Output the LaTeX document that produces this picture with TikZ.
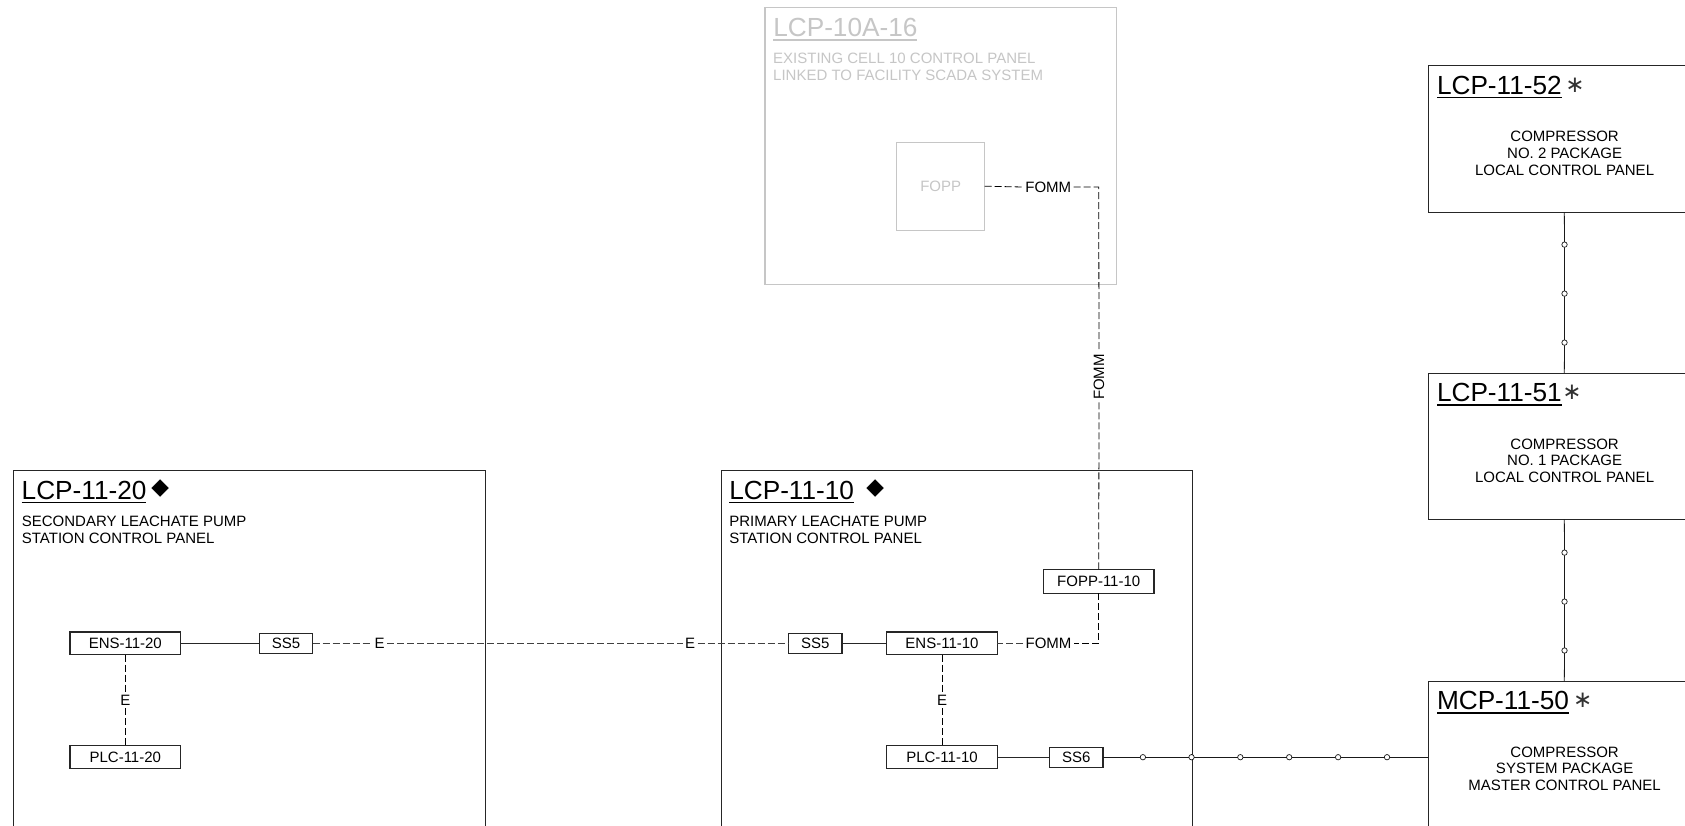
\documentclass[tikz,border=0pt]{standalone}
\usepackage{fontspec}
\setmainfont{Liberation Sans}
\newfontfamily\symfont{DejaVu Sans}
\tikzset{
  every node/.style={font=\fontsize{15}{16.7}\selectfont},
  panel/.style={draw=#1,line width=1pt,anchor=north west,inner sep=0pt,outer sep=0pt},
  panel/.default={black!85},
  ghost/.style={draw=ghostc,line width=1.1pt,text=ghostc,inner sep=0pt,outer sep=0pt},
  device/.style={draw=black!85,line width=1.1pt,fill=white,inner sep=0pt,outer sep=0pt},
  titletext/.style={font=\fontsize{26.2}{28}\selectfont,anchor=base west,inner sep=0pt,outer sep=0pt},
  bodytext/.style={align=left,anchor=west,inner sep=0pt},
  centertext/.style={align=center,anchor=center,inner sep=0pt},
  mark sym/.style={font=\symfont\fontsize{#1}{#1}\selectfont,inner sep=0pt},
  wirelabel/.style={inner sep=2.5pt,outer sep=0pt},
  dashline/.style={line width=.8pt,dash pattern=on 7pt off 3pt},
  solidthick/.style={line width=1.4pt,black!85},
  solidthin/.style={line width=.8pt,black!90},
  tap/.style={circle,draw=black!90,line width=.7pt,fill=white,inner sep=0pt,minimum size=5.4pt,outer sep=0pt},
}
\definecolor{ghostc}{HTML}{C6C6C6}
\begin{document}
\begin{tikzpicture}[x=1pt,y=-1pt]
\useasboundingbox (0,0) rectangle (1685,825);
\clip (0,0) rectangle (1685,825);
\fill[white] (0,0) rectangle (1685,825);

% existing panel
\node[panel=ghostc,line width=1.1pt,minimum width=351.7pt,minimum height=276.6pt] (p10a) at (765,7.7) {};
\node[titletext,text=ghostc] (t10a) at (773.3,36.3) {LCP-10A-16};
\draw[line width=1.5pt,ghostc] ([yshift=-3.6pt]t10a.base west) -- ([yshift=-3.6pt]t10a.base east);
\node[bodytext,text=ghostc] (b10a) at (773,66.9) {EXISTING CELL 10 CONTROL PANEL\\LINKED TO FACILITY SCADA SYSTEM};
\node[ghost,minimum width=88pt,minimum height=87.7pt] (fopp) at (940.7,186.2) {FOPP};

% pump panels
\node[panel,minimum width=471.4pt,minimum height=500pt] (p20) at (13.6,470.4) {};
\node[titletext] (t20) at (21.7,499) {LCP-11-20};
\draw[line width=1.5pt] ([yshift=-3.4pt]t20.base west) -- ([yshift=-3.4pt]t20.base east);
\node[mark sym=23] (d20) at (160.3,489) {◆};
\node[bodytext] (b20) at (21.7,529.9) {SECONDARY LEACHATE PUMP\\STATION CONTROL PANEL};

\node[panel,minimum width=471.7pt,minimum height=500pt] (p10) at (721.2,470.4) {};
\node[titletext] (t10) at (729.3,499) {LCP-11-10};
\draw[line width=1.5pt] ([yshift=-3.4pt]t10.base west) -- ([yshift=-3.4pt]t10.base east);
\node[mark sym=23] (d10) at (875.3,489) {◆};
\node[bodytext] (b10) at (729.1,529.9) {PRIMARY LEACHATE PUMP\\STATION CONTROL PANEL};

% compressor panels
\foreach \nm/\ttl/\ty/\sx/\la/\lb/\lc in {
  p52/LCP-11-52/65.7/1575/COMPRESSOR/NO. 2 PACKAGE/LOCAL CONTROL PANEL,
  p51/LCP-11-51/373/1572/COMPRESSOR/NO. 1 PACKAGE/LOCAL CONTROL PANEL,
  p50/MCP-11-50/681/1582.8/COMPRESSOR/SYSTEM PACKAGE/MASTER CONTROL PANEL}{
  \node[panel,minimum width=271.8pt,minimum height=146.3pt] (\nm) at (1428.4,\ty) {};
  \node[titletext] (t\nm) at (1437,\ty+28.3) {\ttl};
  \draw[line width=1.5pt] ([yshift=-3.6pt]t\nm.base west) -- ([yshift=-3.6pt]t\nm.base east);
  \node[font=\symfont\fontsize{23}{23}\selectfont,text=black!80,inner sep=0pt] (s\nm) at (\sx,\ty+19.3) {∗};
  \node[centertext] (b\nm) at (1564.6,\ty+87.7) {\la\\\lb\\\lc};
}

% devices
\node[device,minimum width=110.7pt,minimum height=22.6pt] (ens20) at (125.3,643.3) {ENS-11-20};
\node[device,minimum width=110.7pt,minimum height=23pt] (plc20) at (125.3,757.2) {PLC-11-20};
\node[device,minimum width=53.4pt,minimum height=19.5pt] (ss20) at (286,643.3) {SS5};
\node[device,minimum width=53.3pt,minimum height=19.7pt] (ss10) at (815.3,643.3) {SS5};
\node[device,minimum width=110.6pt,minimum height=22.6pt] (ens10) at (942,643.3) {ENS-11-10};
\node[device,minimum width=110.6pt,minimum height=23pt] (plc10) at (942,757.2) {PLC-11-10};
\node[device,minimum width=53.6pt,minimum height=20pt] (ss6) at (1076.2,757.2) {SS6};
\node[device,minimum width=110.6pt,minimum height=23.4pt] (fopp10) at (1098.7,581.5) {FOPP-11-10};

% wire labels
\node[wirelabel] (lf1) at (1048.3,187) {FOMM};
\coordinate (c1) at (1098.7,187);
\node[wirelabel,rotate=90] (lf2) at (1099,377) {FOMM};
\node[wirelabel] (lf3) at (1048.5,643.3) {FOMM};
\coordinate (c3) at (1098.7,643.3);
\node[wirelabel] (le1) at (379.7,643.3) {E};
\node[wirelabel] (le2) at (690,643.3) {E};
\node[wirelabel] (le3) at (125.3,700.8) {E};
\node[wirelabel] (le4) at (942,700.8) {E};

% dashed wires
\draw[dashline] (fopp.east) -- (lf1.west);
\draw[dashline] (lf1.east) -- (c1) -- (lf2.east);
\draw[dashline] (lf2.west) -- (fopp10.north);
\draw[dashline] (fopp10.south) -- (c3) -- (lf3.east);
\draw[dashline,black!75] (lf3.west) -- (ens10.east);
\draw[dashline,black!75] (ss20.east) -- (le1.west);
\draw[dashline,black!75] (le1.east) -- (le2.west);
\draw[dashline,black!75] (le2.east) -- (ss10.west);
\draw[dashline] (ens20.south) -- (le3.north);
\draw[dashline] (le3.south) -- (plc20.north);
\draw[dashline] (ens10.south) -- (le4.north);
\draw[dashline] (le4.south) -- (plc10.north);

% solid wires
\draw[solidthick] (ens20.east) -- (ss20.west);
\draw[solidthick] (ss10.east) -- (ens10.west);
\draw[solidthick] (plc10.east) -- (ss6.west);

% comms with taps
\foreach \n/\x in {h1/1142.9,h2/1191.5,h3/1240.3,h4/1289.2,h5/1338.1,h6/1387}
  \node[tap] (\n) at (\x,757.2) {};
\draw[solidthin] (ss6.east) -- (h1) -- (h2) -- (h3) -- (h4) -- (h5) -- (h6) -- (h6 -| p50.west);
\foreach \n/\y in {a1/244.6,a2/293.6,a3/342.6,b1/552.6,b2/601.6,b3/650.5}
  \node[tap] (\n) at (1564.5,\y) {};
\draw[solidthin] (p52.south) -- (a1) -- (a2) -- (a3) -- (p51.north);
\draw[solidthin] (p51.south) -- (b1) -- (b2) -- (b3) -- (p50.north);
\end{tikzpicture}
\end{document}
